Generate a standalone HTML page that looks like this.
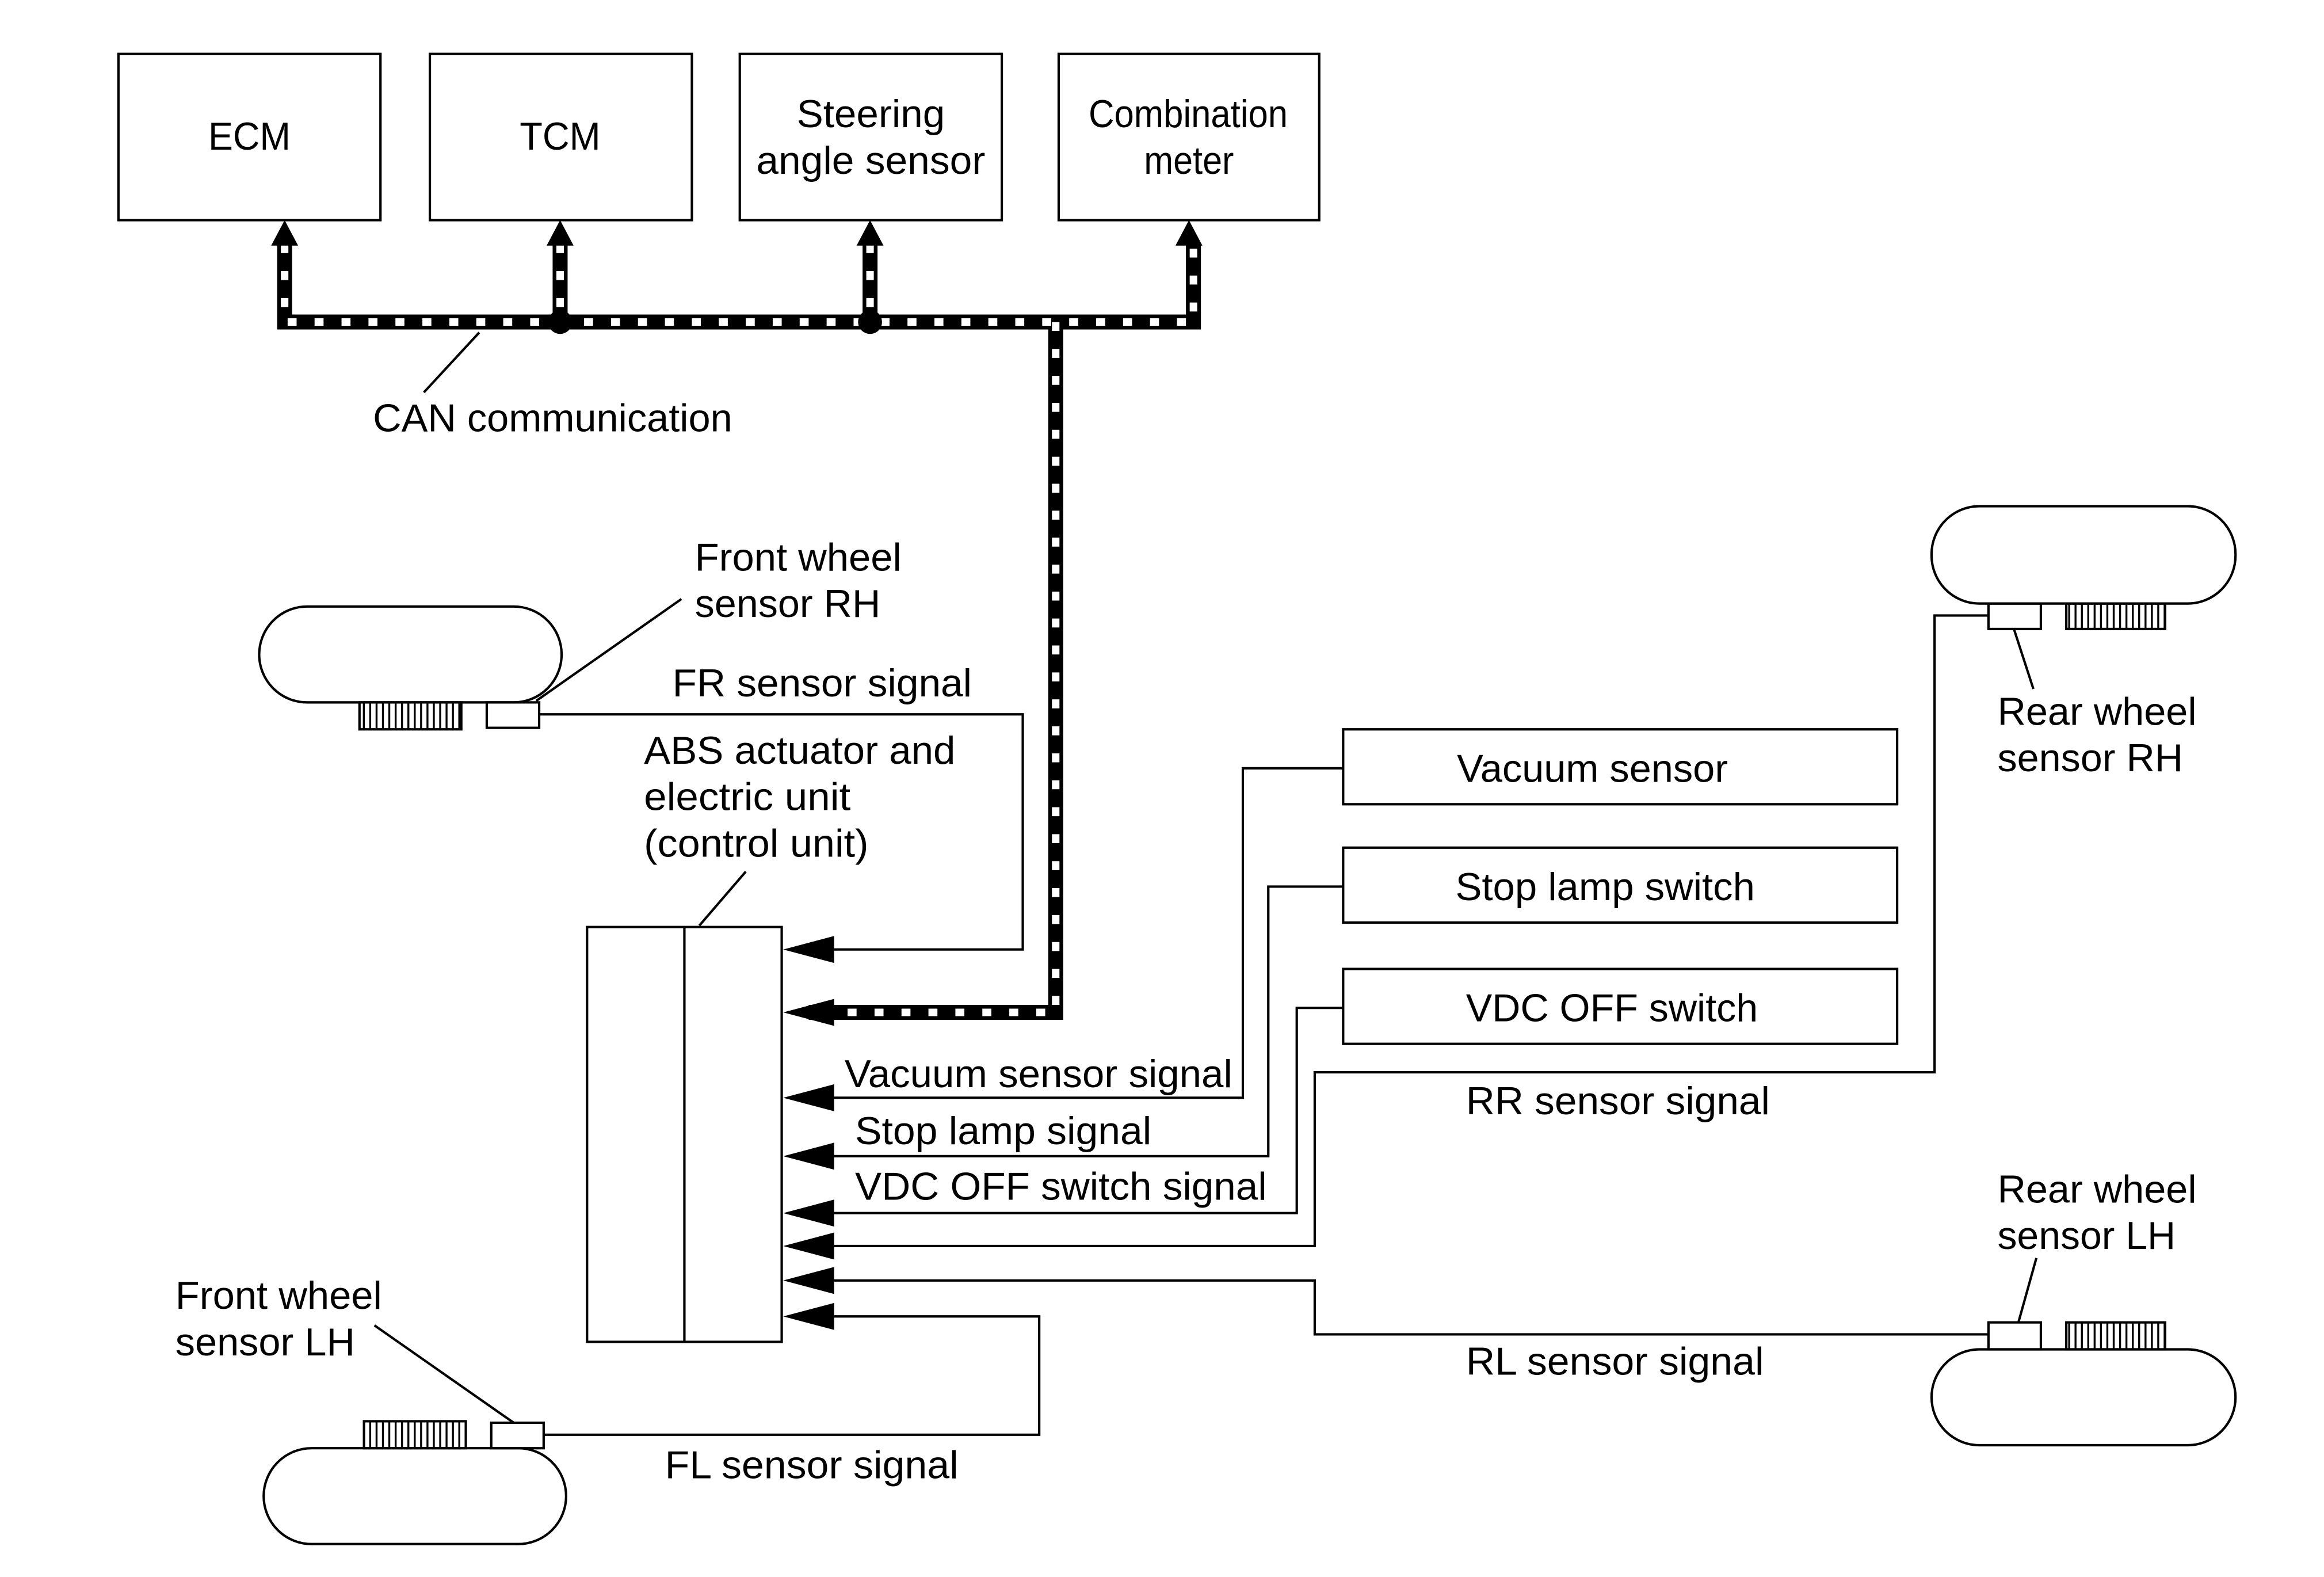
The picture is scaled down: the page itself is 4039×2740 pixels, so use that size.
<!DOCTYPE html>
<html><head><style>html,body{margin:0;padding:0;background:#fff}svg{display:block}</style></head>
<body>
<svg width="4039" height="2740" viewBox="0 0 1552 1053" xmlns="http://www.w3.org/2000/svg" font-family="Liberation Sans, sans-serif" font-size="26" fill="none" stroke="#000">
<defs>
<pattern id="teeth" width="4.25" height="20" patternUnits="userSpaceOnUse"><rect x="0" y="0" width="1.3" height="20" fill="#000" stroke="none"/></pattern>
</defs>
<g stroke-width="1.6">
<rect x="79" y="36" width="175" height="111"/>
<rect x="287" y="36" width="175" height="111"/>
<rect x="494" y="36" width="175" height="111"/>
<rect x="707" y="36" width="174" height="111"/>
<rect x="392" y="619" width="130" height="277"/>
<line x1="457" y1="619" x2="457" y2="896"/>
<rect x="897" y="487" width="370" height="50"/>
<rect x="897" y="566" width="370" height="50"/>
<rect x="897" y="647" width="370" height="50"/>
</g>
<g stroke-linejoin="miter">
<path d="M190 163 V215 H797 V163 M374 163 V215 M581 163 V215 M705 215 V676 H540" stroke-width="10"/>
<path d="M190 163 V215 H797 V163 M374 163 V215 M581 163 V215 M705 215 V676 H540" stroke="#fff" stroke-width="5" stroke-dasharray="6 12"/>
</g>
<g fill="#000" stroke="none">
<polygon points="190,147 181,164 199,164"/>
<polygon points="374,147 365,164 383,164"/>
<polygon points="581,147 572,164 590,164"/>
<polygon points="794,147 785,164 803,164"/>
<circle cx="374" cy="215" r="8"/>
<circle cx="581" cy="215" r="8"/>
<polygon points="523,634 557,625 557,643"/>
<polygon points="523,676 557,667 557,685"/>
<polygon points="523,733 557,724 557,742"/>
<polygon points="523,772 557,763 557,781"/>
<polygon points="523,810 557,801 557,819"/>
<polygon points="523,832 557,823 557,841"/>
<polygon points="523,855 557,846 557,864"/>
<polygon points="523,879 557,870 557,888"/>
</g>
<g stroke-width="1.6">
<line x1="320" y1="222" x2="283" y2="262"/>
<path d="M360 477 H683 V634 H550"/>
<path d="M897 513 H830 V733 H550"/>
<path d="M897 592 H847 V772 H550"/>
<path d="M897 673 H866 V810 H550"/>
<path d="M1328 411 H1292 V716 H878 V832 H550"/>
<path d="M1328 891 H878 V855 H550"/>
<path d="M363 958 H694 V879 H550"/>
<line x1="358" y1="468" x2="455" y2="400"/>
<line x1="467" y1="618" x2="498" y2="582"/>
<line x1="1345" y1="420" x2="1358" y2="460"/>
<line x1="1360" y1="840" x2="1348" y2="883"/>
<line x1="250" y1="885" x2="343" y2="950"/>
<rect x="173" y="405" width="202" height="64" rx="32"/>
<rect x="325" y="469" width="35" height="17"/>
<rect x="240" y="469" width="68" height="18" fill="url(#teeth)"/>
<rect x="1290" y="338" width="203" height="65" rx="32"/>
<rect x="1328" y="403" width="35" height="17"/>
<rect x="1380" y="403" width="66" height="17" fill="url(#teeth)"/>
<rect x="1290" y="901" width="203" height="64" rx="32"/>
<rect x="1328" y="883" width="35" height="18"/>
<rect x="1380" y="883" width="66" height="18" fill="url(#teeth)"/>
<rect x="176" y="967" width="202" height="64" rx="32"/>
<rect x="328" y="950" width="35" height="17"/>
<rect x="243" y="949" width="68" height="18" fill="url(#teeth)"/>
</g>
<g fill="#000" stroke="none" lengthAdjust="spacingAndGlyphs">
<text x="139" y="100" textLength="55" lengthAdjust="spacingAndGlyphs">ECM</text>
<text x="347" y="100" textLength="54" lengthAdjust="spacingAndGlyphs">TCM</text>
<text x="532" y="85" textLength="99" lengthAdjust="spacingAndGlyphs">Steering</text>
<text x="505" y="116" textLength="153" lengthAdjust="spacingAndGlyphs">angle sensor</text>
<text x="727" y="85" textLength="133" lengthAdjust="spacingAndGlyphs">Combination</text>
<text x="764" y="116" textLength="60" lengthAdjust="spacingAndGlyphs">meter</text>
<text x="249" y="288" textLength="240" lengthAdjust="spacingAndGlyphs">CAN communication</text>
<text x="464" y="381" textLength="138" lengthAdjust="spacingAndGlyphs">Front wheel</text>
<text x="464" y="412" textLength="124" lengthAdjust="spacingAndGlyphs">sensor RH</text>
<text x="449" y="465" textLength="200" lengthAdjust="spacingAndGlyphs">FR sensor signal</text>
<text x="430" y="510" textLength="208" lengthAdjust="spacingAndGlyphs">ABS actuator and</text>
<text x="430" y="541" textLength="138" lengthAdjust="spacingAndGlyphs">electric unit</text>
<text x="430" y="572" textLength="150" lengthAdjust="spacingAndGlyphs">(control unit)</text>
<text x="973" y="522" textLength="181" lengthAdjust="spacingAndGlyphs">Vacuum sensor</text>
<text x="972" y="601" textLength="200" lengthAdjust="spacingAndGlyphs">Stop lamp switch</text>
<text x="979" y="682" textLength="195" lengthAdjust="spacingAndGlyphs">VDC OFF switch</text>
<text x="564" y="726" textLength="259" lengthAdjust="spacingAndGlyphs">Vacuum sensor signal</text>
<text x="571" y="764" textLength="198" lengthAdjust="spacingAndGlyphs">Stop lamp signal</text>
<text x="571" y="801" textLength="275" lengthAdjust="spacingAndGlyphs">VDC OFF switch signal</text>
<text x="979" y="744" textLength="203" lengthAdjust="spacingAndGlyphs">RR sensor signal</text>
<text x="979" y="918" textLength="199" lengthAdjust="spacingAndGlyphs">RL sensor signal</text>
<text x="444" y="987" textLength="196" lengthAdjust="spacingAndGlyphs">FL sensor signal</text>
<text x="1334" y="484" textLength="133" lengthAdjust="spacingAndGlyphs">Rear wheel</text>
<text x="1334" y="515" textLength="124" lengthAdjust="spacingAndGlyphs">sensor RH</text>
<text x="1334" y="803" textLength="133" lengthAdjust="spacingAndGlyphs">Rear wheel</text>
<text x="1334" y="834" textLength="119" lengthAdjust="spacingAndGlyphs">sensor LH</text>
<text x="117" y="874" textLength="138" lengthAdjust="spacingAndGlyphs">Front wheel</text>
<text x="117" y="905" textLength="120" lengthAdjust="spacingAndGlyphs">sensor LH</text>
</g>
</svg>
</body></html>
